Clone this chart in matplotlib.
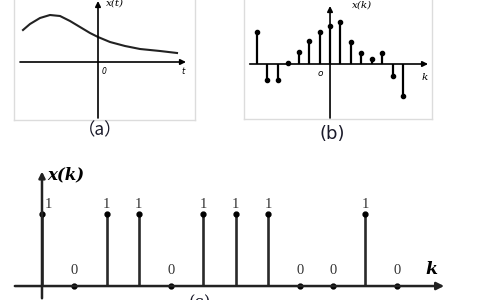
import numpy as np
import matplotlib.pyplot as plt

# (a) continuous signal
t_a = [-7.5, -6.8, -5.8, -4.8, -3.8, -2.8, -1.8, -0.8, 0.0, 1.2, 2.7, 4.2, 6.2, 7.9]
x_a = [3.2, 3.8, 4.4, 4.7, 4.6, 4.1, 3.5, 2.9, 2.5, 2.0, 1.6, 1.3, 1.1, 0.9]

# (b) sampled signal
k_b = list(range(-7, 8))
x_b = [3.2, -1.6, -1.6, 0.1, 1.2, 2.3, 3.2, 3.8, 4.2, 2.2, 1.1, 0.5, 1.1, -1.2, -3.2]

# (c) binary sequence
k_c = list(range(12))
x_c = [1, 0, 1, 1, 0, 1, 1, 1, 0, 0, 1, 0]

W, H = 480, 300
fig = plt.figure(figsize=(4.8, 3), dpi=100)


def px_axes(x0, x1, y0, y1):
    # axes placed by pixel box (y measured from top)
    return fig.add_axes([x0 / W, 1 - y1 / H, (x1 - x0) / W, (y1 - y0) / H])


def arrow(ax, p0, p1, lw=1.2, ms=8, color='black'):
    ax.annotate('', xy=p1, xytext=p0,
                arrowprops=dict(arrowstyle='-|>', lw=lw, color=color,
                                mutation_scale=ms, shrinkA=0, shrinkB=0))


def frame(ax):
    ax.set_xticks([])
    ax.set_yticks([])
    ax.spines['top'].set_visible(False)
    for s in ['left', 'right', 'bottom']:
        ax.spines[s].set_color('#dcdcdc')
        ax.spines[s].set_linewidth(1)
    ax.patch.set_alpha(0)


# ---- panel (a)
ax_a = px_axes(14, 195, 0, 120)
ax_a.set_xlim(-8.4, 9.7)
ax_a.set_ylim(-5.8, 6.2)
frame(ax_a)
arrow(ax_a, (-7.8, 0), (8.8, 0))
arrow(ax_a, (0, -5.6), (0, 6.1))
ax_a.plot(t_a, x_a, color='#222222', lw=1.5)
ax_a.text(0.8, 5.9, 'x(t)', fontsize=7.5, style='italic', family='DejaVu Serif', va='center')
ax_a.text(0.4, -1.0, '0', fontsize=5.5, style='italic', va='center')
ax_a.text(8.3, -1.0, 't', fontsize=6, style='italic', va='center')
fig.text(100 / W, 1 - 130 / H, '（a）', fontsize=12.5, ha='center', va='center',
         family=['Noto Sans CJK SC', 'DejaVu Sans'], color='#1a1a2a')

# ---- panel (b)
ax_b = px_axes(244, 432, 0, 119)
ax_b.set_xlim(-8.25, 9.78)
ax_b.set_ylim(-5.5, 6.4)
frame(ax_b)
arrow(ax_b, (-7.7, 0), (9.4, 0))
arrow(ax_b, (0, -5.4), (0, 5.8))
mk, st, bl = ax_b.stem(k_b, x_b, linefmt='k-', markerfmt='ko', basefmt=' ')
mk.set_markersize(3)
st.set_linewidth(1.6)
ax_b.text(2.1, 5.9, 'x(k)', fontsize=7.5, style='italic', family='DejaVu Serif', va='center')
ax_b.text(-0.96, -0.9, 'o', fontsize=6.5, style='italic', va='center', ha='center')
ax_b.text(8.8, -1.3, 'k', fontsize=7.5, style='italic', family='DejaVu Serif', va='center')
fig.text(332 / W, 1 - 134 / H, '(b)', fontsize=13, ha='center', va='center',
         family='DejaVu Sans', color='#1a1a2a')

# ---- panel (c)
ax_c = px_axes(0, 480, 150, 300)
ax_c.set_xlim(-1.3, 13.56)
ax_c.set_ylim(-0.194, 1.889)
ax_c.set_axis_off()
arrow(ax_c, (-0.84, 0), (12.45, 0), lw=1.8, ms=11, color='#222222')
arrow(ax_c, (0, -0.17), (0, 1.59), lw=1.8, ms=9, color='#222222')
mk, st, bl = ax_c.stem(k_c, x_c, linefmt='-', markerfmt='ko', basefmt=' ')
mk.set_markersize(3.5)
st.set_color('#2a2a2a')
st.set_linewidth(1.9)
for k, v in zip(k_c, x_c):
    if v == 1:
        xx = 0.2 if k == 0 else k
        ax_c.text(xx, 1.13, '1', fontsize=10.5, family='Liberation Serif',
                  ha='center', va='center', color='#333333')
    else:
        ax_c.text(k, 0.22, '0', fontsize=10.5, family='Liberation Serif',
                  ha='center', va='center', color='#333333')
ax_c.text(0.15, 1.55, 'x(k)', fontsize=12, family='DejaVu Serif', style='italic',
          weight='bold', va='center', ha='left')
ax_c.text(12.05, 0.23, 'k', fontsize=12.5, family='DejaVu Serif', style='italic',
          weight='bold', va='center', ha='center')
fig.text(200 / W, 1 - 294 / H, '(c)', fontsize=12, ha='center', va='top',
         family='DejaVu Serif', color='#1a1a2a')

fig.savefig('out.png', dpi=100, facecolor='white')
